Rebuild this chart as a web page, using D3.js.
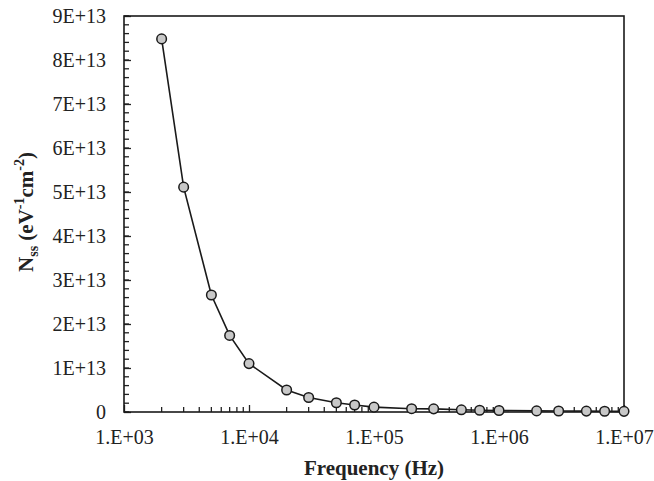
<!DOCTYPE html>
<html>
<head>
<meta charset="utf-8">
<script src="https://cdn.jsdelivr.net/npm/d3@7"></script>
<style>
  body { margin: 0; background: #fff; }
  svg { display: block; font-family: "Liberation Serif", "Times New Roman", serif; }
</style>
</head>
<body>
<script>
// data
var freq = [2e3, 3e3, 5e3, 7e3, 1e4, 2e4, 3e4, 5e4, 7e4, 1e5,
            2e5, 3e5, 5e5, 7e5, 1e6, 2e6, 3e6, 5e6, 7e6, 1e7];
var nss = [8.48e13, 5.11e13, 2.66e13, 1.74e13, 1.10e13, 5.0e12, 3.3e12, 2.1e12, 1.6e12, 1.1e12,
           7.5e11, 7.2e11, 5.0e11, 4.0e11, 3.5e11, 2.5e11, 2.2e11, 2.0e11, 1.8e11, 1.5e11];
var xTicks = [1e3, 1e4, 1e5, 1e6, 1e7];
var yTicks = [0, 1e13, 2e13, 3e13, 4e13, 5e13, 6e13, 7e13, 8e13, 9e13];

var data = freq.map(function(f, i) { return {f: f, v: nss[i]}; });

// set the dimensions and margins of the graph
var margin = {top: 16, right: 30, bottom: 69, left: 124},
    width = 654 - margin.left - margin.right,
    height = 481 - margin.top - margin.bottom;

var x = d3.scaleLog().domain([1e3, 1e7]).range([0, width]);
var y = d3.scaleLinear().domain([0, 9e13]).range([height, 0]);

var svg = d3.select('body')
  .append('svg')
  .attr('width', 654)
  .attr('height', 481)
  .append('g')
  .attr('transform', 'translate(' + margin.left + ',' + margin.top + ')');

// minor ticks on x (log) - inside
var xMinor = [];
for (var e = 3; e < 7; e++) {
  for (var k = 2; k <= 9; k++) xMinor.push(k * Math.pow(10, e));
}
svg.selectAll('.xminor')
  .data(xMinor)
  .enter()
  .append('line')
  .attr('x1', function(d) { return x(d); })
  .attr('x2', function(d) { return x(d); })
  .attr('y1', height)
  .attr('y2', height - 5)
  .attr('stroke', '#222')
  .attr('stroke-width', 1.3);

// minor ticks on y - inside
var yMinor = d3.range(0, 9e13 + 1, 2e12);
svg.selectAll('.yminor')
  .data(yMinor)
  .enter()
  .append('line')
  .attr('x1', 0)
  .attr('x2', 5)
  .attr('y1', function(d) { return y(d); })
  .attr('y2', function(d) { return y(d); })
  .attr('stroke', '#222')
  .attr('stroke-width', 1.3);

// x axis
var xAxis = svg.append('g')
  .attr('transform', 'translate(0,' + height + ')')
  .call(d3.axisBottom(x).tickValues(xTicks).tickSize(-7).tickPadding(18)
    .tickFormat(function(d) { return '1.E+0' + Math.round(Math.log10(d)); }));
xAxis.select('.domain').remove();
xAxis.selectAll('line').attr('stroke', '#222').attr('stroke-width', 1.3);
xAxis.selectAll('text')
  .style('font-family', '"Liberation Serif", serif')
  .style('font-size', '20px')
  .attr('fill', '#222');

// y axis
var yAxis = svg.append('g')
  .call(d3.axisLeft(y).tickValues(yTicks).tickSize(-7).tickPadding(18)
    .tickFormat(function(d) { return d === 0 ? '0' : (d / 1e13) + 'E+13'; }));
yAxis.select('.domain').remove();
yAxis.selectAll('line').attr('stroke', '#222').attr('stroke-width', 1.3);
yAxis.selectAll('text')
  .style('font-family', '"Liberation Serif", serif')
  .style('font-size', '20px')
  .attr('fill', '#222');

// frame
svg.append('rect')
  .attr('x', 0)
  .attr('y', 0)
  .attr('width', width)
  .attr('height', height)
  .attr('fill', 'none')
  .attr('stroke', '#1a1a1a')
  .attr('stroke-width', 1.6);

// the line
var line = d3.line()
  .x(function(d) { return x(d.f); })
  .y(function(d) { return y(d.v); });

svg.append('path')
  .datum(data)
  .attr('d', line)
  .attr('fill', 'none')
  .attr('stroke', '#1a1a1a')
  .attr('stroke-width', 1.6);

// markers
svg.selectAll('.dot')
  .data(data)
  .enter()
  .append('circle')
  .attr('cx', function(d) { return x(d.f); })
  .attr('cy', function(d) { return y(d.v); })
  .attr('r', 4.8)
  .attr('fill', '#c8c8c8')
  .attr('stroke', '#1a1a1a')
  .attr('stroke-width', 1.5);

// x axis title
svg.append('text')
  .attr('x', width / 2)
  .attr('y', height + 63)
  .attr('text-anchor', 'middle')
  .style('font-size', '21px')
  .style('font-weight', 'bold')
  .attr('fill', '#222')
  .text('Frequency (Hz)');

// y axis title
var yt = svg.append('text')
  .attr('transform', 'rotate(-90)')
  .attr('x', -height / 2 + 2)
  .attr('y', -margin.left + 33)
  .attr('text-anchor', 'middle')
  .style('font-size', '21px')
  .style('font-weight', 'bold')
  .attr('fill', '#222');
yt.append('tspan').text('N');
yt.append('tspan').attr('dy', 5).style('font-size', '14px').text('ss');
yt.append('tspan').attr('dy', -5).text(' (eV');
yt.append('tspan').attr('dy', -9).style('font-size', '14px').text('-1');
yt.append('tspan').attr('dy', 9).text('cm');
yt.append('tspan').attr('dy', -9).style('font-size', '14px').text('-2');
yt.append('tspan').attr('dy', 9).text(')');
</script>
</body>
</html>
